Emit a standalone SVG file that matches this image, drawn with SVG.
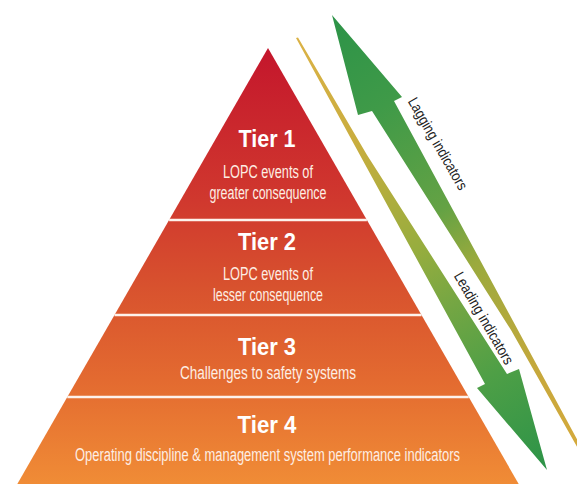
<svg xmlns="http://www.w3.org/2000/svg" width="577" height="484" viewBox="0 0 577 484">
<defs>
<linearGradient id="pyr" gradientUnits="userSpaceOnUse" x1="0" y1="48" x2="0" y2="484">
<stop offset="0" stop-color="#c4162c"/>
<stop offset="0.35" stop-color="#d0382e"/>
<stop offset="0.55" stop-color="#d8522e"/>
<stop offset="0.76" stop-color="#e36a30"/>
<stop offset="1" stop-color="#f08c36"/>
</linearGradient>
<linearGradient id="gA" gradientUnits="userSpaceOnUse" x1="332" y1="15" x2="590" y2="465">
<stop offset="0" stop-color="#2c9348"/>
<stop offset="0.2" stop-color="#3f9a48"/>
<stop offset="0.43" stop-color="#64a244"/>
<stop offset="0.55" stop-color="#9aaa3d"/>
<stop offset="0.8" stop-color="#c7a83c"/>
<stop offset="1" stop-color="#d8aa3c"/>
</linearGradient>
<linearGradient id="gB" gradientUnits="userSpaceOnUse" x1="296" y1="38" x2="547" y2="470">
<stop offset="0" stop-color="#dbb246"/>
<stop offset="0.24" stop-color="#c9ad3e"/>
<stop offset="0.49" stop-color="#96ad3e"/>
<stop offset="0.62" stop-color="#74a643"/>
<stop offset="0.78" stop-color="#4e9f46"/>
<stop offset="1" stop-color="#2c9348"/>
</linearGradient>
</defs>
<style>
.band{fill:url(#pyr);}
.sep{stroke:#fdf2ec;stroke-width:2.5;}
.title{font-family:"Liberation Sans Narrow","Liberation Sans",Arial,sans-serif;font-weight:bold;font-size:24px;fill:#ffffff;text-anchor:middle;}
.sub{font-family:"Liberation Sans Narrow","Liberation Sans",Arial,sans-serif;font-size:18px;fill:#fdeee4;text-anchor:middle;}
.lab{font-family:"Liberation Sans Narrow","Liberation Sans",Arial,sans-serif;font-size:15px;fill:#222222;text-anchor:middle;}
</style>
<rect width="577" height="484" fill="#ffffff"/>
<g id="tier1">
<polygon class="band" points="268,48 366.9,220 169.1,220"/>
<text class="title" x="267" y="147" textLength="57" lengthAdjust="spacingAndGlyphs">Tier 1</text>
<text class="sub" x="268" y="178" textLength="90" lengthAdjust="spacingAndGlyphs">LOPC events of</text>
<text class="sub" x="268" y="199" textLength="117" lengthAdjust="spacingAndGlyphs">greater consequence</text>
</g>
<g id="tier2">
<polygon class="band" points="169.1,220 366.9,220 421.5,315 114.5,315"/>
<line class="sep" x1="169.1" y1="220" x2="366.9" y2="220"/>
<text class="title" x="267" y="250" textLength="58" lengthAdjust="spacingAndGlyphs">Tier 2</text>
<text class="sub" x="268" y="280" textLength="90" lengthAdjust="spacingAndGlyphs">LOPC events of</text>
<text class="sub" x="268" y="301" textLength="110" lengthAdjust="spacingAndGlyphs">lesser consequence</text>
</g>
<g id="tier3">
<polygon class="band" points="114.5,315 421.5,315 468.7,397 67.3,397"/>
<line class="sep" x1="114.5" y1="315" x2="421.5" y2="315"/>
<text class="title" x="267" y="355" textLength="58" lengthAdjust="spacingAndGlyphs">Tier 3</text>
<text class="sub" x="268" y="379" textLength="176" lengthAdjust="spacingAndGlyphs">Challenges to safety systems</text>
</g>
<g id="tier4">
<polygon class="band" points="67.3,397 468.7,397 518.7,484 17.3,484"/>
<line class="sep" x1="67.3" y1="397" x2="468.7" y2="397"/>
<text class="title" x="267" y="433" textLength="59" lengthAdjust="spacingAndGlyphs">Tier 4</text>
<text class="sub" x="267.5" y="461" textLength="385" lengthAdjust="spacingAndGlyphs">Operating discipline &amp; management system performance indicators</text>
</g>
<g id="connectors">
<g id="lagging">
<polygon fill="url(#gA)" points="332,15 402,97 394,101 592,467 589,468 511,330 372,111 358,115"/>
<text class="lab" transform="translate(433.4,146.2) rotate(60)" x="0" y="0" textLength="104" lengthAdjust="spacingAndGlyphs">Lagging indicators</text>
</g>
<g id="leading">
<polygon fill="url(#gB)" points="547,470 477,388 485,384 296,38 298,37.5 367,155 507,374 519,369"/>
<text class="lab" transform="translate(479.4,320.7) rotate(60)" x="0" y="0" textLength="104" lengthAdjust="spacingAndGlyphs">Leading indicators</text>
</g>
</g>
</svg>
